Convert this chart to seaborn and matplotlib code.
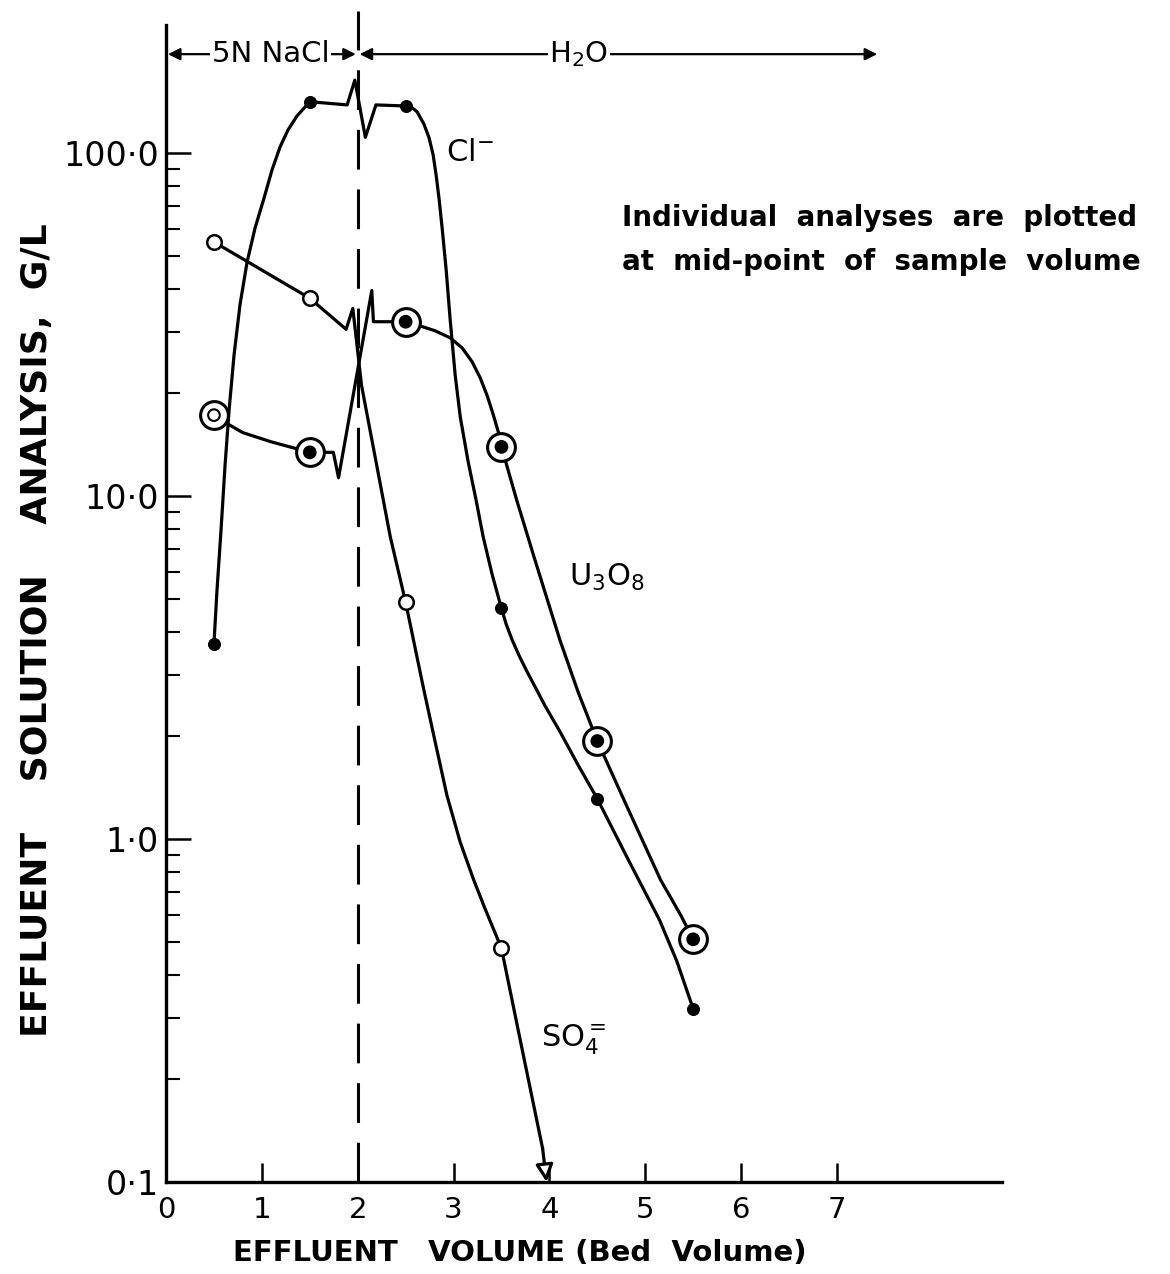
import numpy as np
import pandas as pd
import seaborn as sns
import matplotlib.pyplot as plt
from matplotlib.ticker import FixedLocator, NullFormatter

# Sample analyses (plotted at mid-point of each bed volume)
sample_x = [0.5, 1.5, 2.5, 3.5, 4.5, 5.5]
cl_vals = [3.7, 141, 137, 4.7, 1.31, 0.32]
u3o8_vals = [17.2, 13.4, 32.2, 13.9, 1.93, 0.51]
so4_x = [0.5, 1.5, 2.5, 3.5]
so4_vals = [55, 37.7, 4.9, 0.48]

# Hand drawn curves (incl. the axis-break zigzags near 2 BV)
cl_curve_x = [0.5, 0.532, 0.574, 0.616, 0.658, 0.71, 0.772, 0.846, 0.929, 1.023,
              1.106, 1.19, 1.273, 1.367, 1.5, 1.89, 1.97, 2.08, 2.19,
              2.5, 2.56, 2.62, 2.69, 2.745, 2.787, 2.818, 2.85, 2.881, 2.923, 2.965,
              3.017, 3.07, 3.152, 3.236, 3.309, 3.403, 3.5, 3.549, 3.612, 3.685,
              3.768, 3.862, 3.956, 4.113, 4.301, 4.5, 4.823, 5.15, 5.33, 5.5]
cl_curve_y = [3.7, 5.32, 7.96, 12.3, 17.8, 25.8, 36.1, 48.1, 60.4, 73.9,
              89.2, 104.1, 116.7, 128.2, 141, 138, 163, 111, 138,
              137, 136, 131.7, 121.5, 110.6, 98.7, 86.3, 73, 60.4, 45.6, 32.6,
              22.5, 17, 12.6, 9.7, 7.6, 5.9, 4.7, 4.23, 3.80, 3.42,
              3.07, 2.74, 2.44, 2.05, 1.64, 1.31, 0.87, 0.58, 0.44, 0.32]
u3o8_curve_x = [0.5, 0.63, 0.8, 1.09, 1.5, 1.746, 1.80, 2.147, 2.164, 2.5, 2.651,
                2.808, 2.965, 3.09, 3.194, 3.278, 3.351, 3.413, 3.466, 3.5, 3.66,
                3.85, 4.11, 4.30, 4.5, 4.8, 5.16, 5.37, 5.5]
u3o8_curve_y = [17.2, 16.3, 15.3, 14.4, 13.4, 13.4, 11.3, 39.7, 32.2, 32.2, 31.3,
                30.3, 28.9, 27.0, 24.6, 22.1, 19.6, 17.3, 15.4, 13.9, 9.7,
                6.5, 3.8, 2.68, 1.93, 1.26, 0.76, 0.6, 0.51]
so4_curve_x = [0.5, 1.5, 1.879, 1.949, 2.04, 2.34, 2.5, 2.69, 2.808, 2.931, 3.069,
               3.21, 3.33, 3.5, 3.71, 3.93]
so4_curve_y = [55, 37.7, 30.6, 35.2, 21, 7.6, 4.9, 2.72, 1.92, 1.34, 0.98,
               0.76, 0.625, 0.48, 0.248, 0.125]
so4_arrow_end = (3.97, 0.1)

y_ticks = [0.1, 1.0, 10.0, 100.0]
y_tick_labels = ["0·1", "1·0", "10·0", "100·0"]
x_ticks = [0, 1, 2, 3, 4, 5, 6, 7]
x_tick_labels = ["0", "1", "2", "3", "4", "5", "6", "7"]
switch_x = 2.0          # change from 5N NaCl to water
h2o_end = 7.42
band_y = 194

sns.set_theme(style="white")
plt.rcParams['font.family'] = ['DejaVu Sans']
plt.rcParams['mathtext.default'] = 'regular'
for key in ['text.color', 'axes.labelcolor', 'xtick.color', 'ytick.color']:
    plt.rcParams[key] = 'black'

fig = plt.figure(figsize=(11.7, 12.74), dpi=100)
ax = fig.add_axes([0.1419, 0.0722, 0.7143, 0.9082])
ax.set_yscale('log')
ax.set_xlim(0, 8.72)
ax.set_ylim(0.1, 236)

LW = 2.3
for cx, cy in [(cl_curve_x, cl_curve_y), (u3o8_curve_x, u3o8_curve_y), (so4_curve_x, so4_curve_y)]:
    sns.lineplot(x=cx, y=cy, sort=False, estimator=None, color='black', lw=LW, ax=ax)

# SO4 curve leaves the chart: open arrowhead at the bottom
ax.annotate('', xy=so4_arrow_end, xytext=(so4_curve_x[-1], so4_curve_y[-1]),
            arrowprops=dict(arrowstyle='-|>', color='black', lw=LW, fc='white',
                            mutation_scale=26, shrinkA=0, shrinkB=0))

# markers
sns.scatterplot(x=so4_x, y=so4_vals, s=110, facecolor='white', edgecolor='black',
                linewidth=1.8, zorder=5, ax=ax)
sns.scatterplot(x=sample_x, y=u3o8_vals, s=400, facecolor='white', edgecolor='black',
                linewidth=2.2, zorder=5, ax=ax)
inner_face = ['white'] + ['black'] * 5
sns.scatterplot(x=sample_x, y=u3o8_vals, s=70, c=inner_face, edgecolor='black',
                linewidth=1.5, zorder=6, ax=ax)
sns.scatterplot(x=sample_x, y=cl_vals, s=75, color='black', edgecolor='black',
                zorder=6, ax=ax)

# dashed divider at 2 bed volumes
ax.axvline(switch_x, 0, 1.012, color='black', lw=2.2, ls=(0, (13, 6.5)),
           clip_on=False, zorder=1)

# eluent bands along the top
arrow_kw = dict(arrowstyle='<|-|>', color='black', lw=1.6, mutation_scale=18,
                shrinkA=0, shrinkB=0)
ax.annotate('', xy=(0.02, band_y), xytext=(switch_x - 0.02, band_y), arrowprops=arrow_kw)
ax.annotate('', xy=(switch_x + 0.02, band_y), xytext=(h2o_end, band_y), arrowprops=arrow_kw)
ax.text(1.09, band_y, "5N NaCl", ha='center', va='center', fontsize=21,
        bbox=dict(fc='white', ec='none', pad=1))
ax.text(4.31, band_y, "H$_2$O", ha='center', va='center', fontsize=21,
        bbox=dict(fc='white', ec='none', pad=1))

# curve labels
ax.text(3.17, 100, "Cl$^{-}$", ha='center', va='center', fontsize=22)
ax.text(4.6, 5.8, "U$_3$O$_8$", ha='center', va='center', fontsize=22)
ax.text(4.25, 0.26, "SO$_4^{=}$", ha='center', va='center', fontsize=22)

# axes styling
for side in ['top', 'right']:
    ax.spines[side].set_visible(False)
for side in ['left', 'bottom']:
    ax.spines[side].set_linewidth(2.4)
    ax.spines[side].set_color('black')

ax.yaxis.set_major_locator(FixedLocator(y_ticks))
ax.set_yticklabels(y_tick_labels)
minor = [m * d for d in [0.1, 1, 10] for m in range(2, 10)]
ax.yaxis.set_minor_locator(FixedLocator(minor))
ax.yaxis.set_minor_formatter(NullFormatter())
ax.set_xticks(x_ticks)
ax.set_xticklabels(x_tick_labels)
ax.tick_params(axis='y', which='major', direction='in', length=18, width=1.8,
               labelsize=24, pad=5, left=True)
ax.tick_params(axis='y', which='minor', direction='in', length=10, width=1.5, left=True)
ax.tick_params(axis='x', which='major', direction='in', length=14, width=1.8,
               labelsize=21, pad=10, bottom=True)
ax.grid(False)

fig.text(520 / 1170, 1 - 1253 / 1274, "EFFLUENT   VOLUME (Bed  Volume)",
         ha='center', va='center', fontsize=21, fontweight='bold')
fig.text(37 / 1170, 1 - 630 / 1274, "EFFLUENT    SOLUTION    ANALYSIS,  G/L",
         ha='center', va='center', rotation=90, fontsize=26, fontweight='bold')
fig.text(622 / 1170, 1 - 218 / 1274, "Individual  analyses  are  plotted",
         ha='left', va='center', fontsize=20, fontweight='bold')
fig.text(622 / 1170, 1 - 262 / 1274, "at  mid-point  of  sample  volume",
         ha='left', va='center', fontsize=20, fontweight='bold')

fig.savefig("out.png", dpi=100)
